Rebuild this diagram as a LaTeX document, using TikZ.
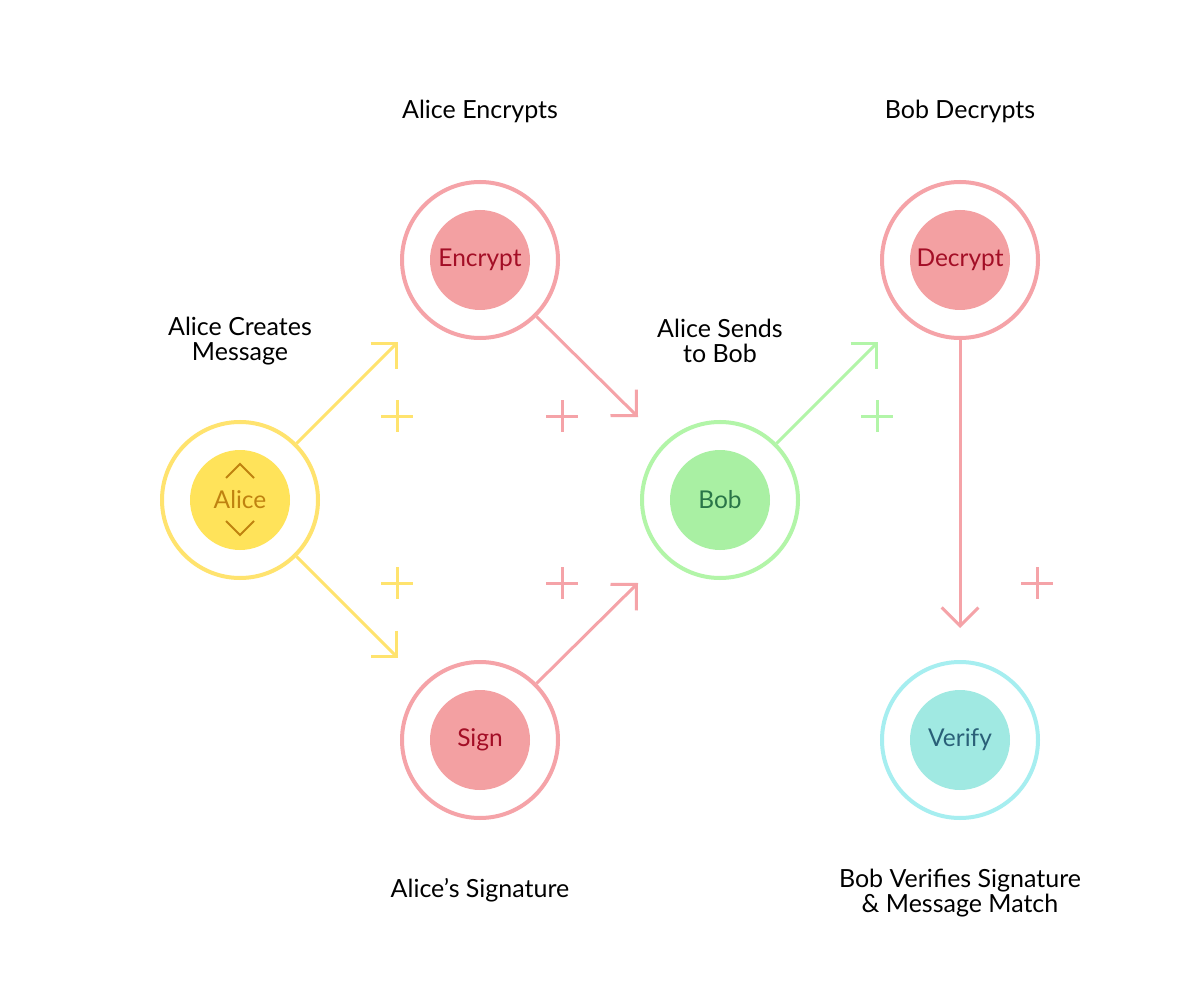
\documentclass[tikz,border=0pt]{standalone}
\usepackage{fontspec}
\setmainfont{Lato}
\usetikzlibrary{arrows.meta}
\definecolor{ylw}{HTML}{FFE36E}
\definecolor{ylwfill}{HTML}{FFE35A}
\definecolor{ylwtxt}{HTML}{BF8210}
\definecolor{pnk}{HTML}{F5A3A8}
\definecolor{pnkfill}{HTML}{F3A0A2}
\definecolor{pnktxt}{HTML}{A30E26}
\definecolor{grn}{HTML}{B2F5A8}
\definecolor{grnfill}{HTML}{A9F0A3}
\definecolor{grntxt}{HTML}{2A7548}
\definecolor{tel}{HTML}{A6EEF0}
\definecolor{telfill}{HTML}{A0E9E2}
\definecolor{teltxt}{HTML}{2A6078}
\tikzset{
  ring/.style={circle, draw=#1, line width=4pt, minimum size=156pt, inner sep=0pt},
  core/.style={circle, fill=#1, minimum size=100pt, inner sep=0pt, font=\fontsize{24.5}{26}\selectfont},
  lbl/.style={align=center, font=\fontsize{25}{24.5}\selectfont, text=black},
  conn/.style={draw=#1, line width=3pt, -{Straight Barb[angle=90:26pt, line width=3pt]}},
  plusmark/.style={draw=#1, line width=3pt},
}
\begin{document}
\begin{tikzpicture}[x=1pt, y=-1pt]
\useasboundingbox[fill=white] (0,0) rectangle (1200,1000);
% rings
\node[ring=ylw] (alice) at (240,500) {};
\node[core=ylwfill, text=ylwtxt] (alicec) at (240,500) {Alice};
\draw[ylwtxt, line width=2pt] (226,478) -- (240,464) -- (254,478);
\draw[ylwtxt, line width=2pt] (226,521) -- (240,535) -- (254,521);
\node[ring=pnk] (enc) at (480,260) {};
\node[core=pnkfill, text=pnktxt] (encc) at (480,260) {Encrypt};
\node[ring=pnk] (sign) at (480,740) {};
\node[core=pnkfill, text=pnktxt] (signc) at (480,740) {Sign};
\node[ring=grn] (bob) at (720,500) {};
\node[core=grnfill, text=grntxt] (bobc) at (720,500) {Bob};
\node[ring=pnk] (dec) at (960,260) {};
\node[core=pnkfill, text=pnktxt] (decc) at (960,260) {Decrypt};
\node[ring=tel] (ver) at (960,740) {};
\node[core=telfill, text=teltxt] (verc) at (960,740) {Verify};
% arrow ends
\coordinate (a1) at (398,342);
\coordinate (a2) at (398,658);
\coordinate (b1) at (638,417);
\coordinate (b2) at (638,583);
\coordinate (c1) at (878,342);
\coordinate (d1) at (960,628);
\draw[conn=ylw] (alice.45) -- (a1);
\draw[conn=ylw] (alice.-45) -- (a2);
\draw[conn=pnk] (enc.-45) -- (b1);
\draw[conn=pnk] (sign.45) -- (b2);
\draw[conn=grn] (bob.45) -- (c1);
\draw[conn=pnk] (dec.south) -- (d1);
% plus marks
\foreach \p/\c in {{(397,416)}/ylw, {(397,583)}/ylw, {(562,416)}/pnk, {(562,583)}/pnk, {(877,416)}/grn, {(1037,583)}/pnk}
  \draw[plusmark=\c, shift={\p}] (-16,0) -- (16,0) (0,-16) -- (0,16);
% labels
\node[lbl] (l1) at (480,111) {Alice Encrypts};
\node[lbl] (l2) at (960,111) {Bob Decrypts};
\node[lbl] (l3) at (240,341) {Alice Creates\\Message};
\node[lbl] (l4) at (720,341) {Alice Sends\\to Bob};
\node[lbl] (l5) at (480,890) {Alice’s Signature};
\node[lbl] (l6) at (960,893) {Bob Verifies Signature\\\& Message Match};
\end{tikzpicture}
\end{document}
